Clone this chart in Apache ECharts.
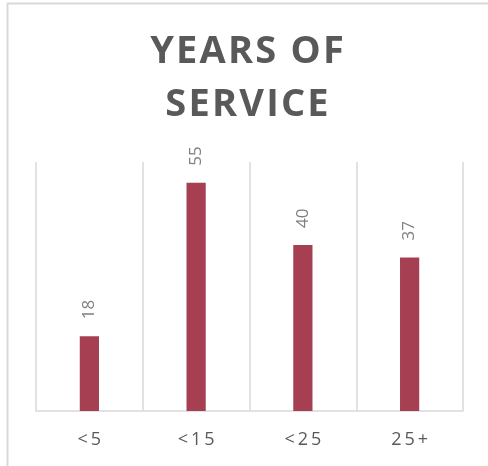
<!DOCTYPE html>
<html>
<head>
<meta charset="utf-8">
<script src="https://cdn.jsdelivr.net/npm/echarts@6/dist/echarts.min.js"></script>
<style>
html,body{margin:0;padding:0;background:#fff;}
#c{width:488px;height:466px;}
</style>
</head>
<body>
<div id="c"></div>
<script>
const titleText = "YEARS OF\nSERVICE";
const categories = ["<5", "<15", "<25", "25+"];
const values = [18, 55, 40, 37];

const chart = echarts.init(document.getElementById('c'), null, {renderer: 'canvas'});
const spaced = (s, sp) => s.split('').join(sp);
chart.setOption({
  backgroundColor: '#fff',
  animation: false,
  graphic: [{
    type: 'rect',
    shape: {x: 7.5, y: 3.5, width: 600, height: 600},
    style: {fill: 'none', stroke: '#d9d9d9', lineWidth: 2},
    silent: true
  }],
  title: {
    text: titleText.split('\n').map(l => spaced(l, '{s|\u200A}')).join('\n'),
    left: 242,
    textAlign: 'center',
    top: 21,
    textStyle: {
      fontFamily: 'Open Sans',
      fontWeight: 'bold',
      fontSize: 38,
      lineHeight: 53,
      color: '#595959',
      rich: {
        s: {fontFamily: 'Open Sans', fontSize: 22, lineHeight: 53}
      }
    }
  },
  grid: {left: 36, right: 25, top: 162, bottom: 55},
  xAxis: {
    type: 'category',
    data: categories,
    axisLine: {lineStyle: {color: '#d9d9d9', width: 1.5}},
    axisTick: {show: false},
    splitLine: {show: true, lineStyle: {color: '#d9d9d9', width: 1.5}},
    axisLabel: {
      formatter: v => spaced(v, '\u2009'),
      fontFamily: 'Open Sans',
      fontSize: 18,
      color: '#595959',
      margin: 20
    }
  },
  yAxis: {
    type: 'value',
    min: 0, max: 60,
    show: false,
    splitLine: {show: false}
  },
  series: [{
    type: 'bar',
    data: values,
    barWidth: '18%',
    itemStyle: {color: '#A53F51'},
    label: {
      show: true,
      position: 'top',
      rotate: 90,
      align: 'left',
      verticalAlign: 'middle',
      distance: 17,
      fontFamily: 'Open Sans',
      fontSize: 17,
      color: '#808080'
    }
  }]
});
</script>
</body>
</html>
